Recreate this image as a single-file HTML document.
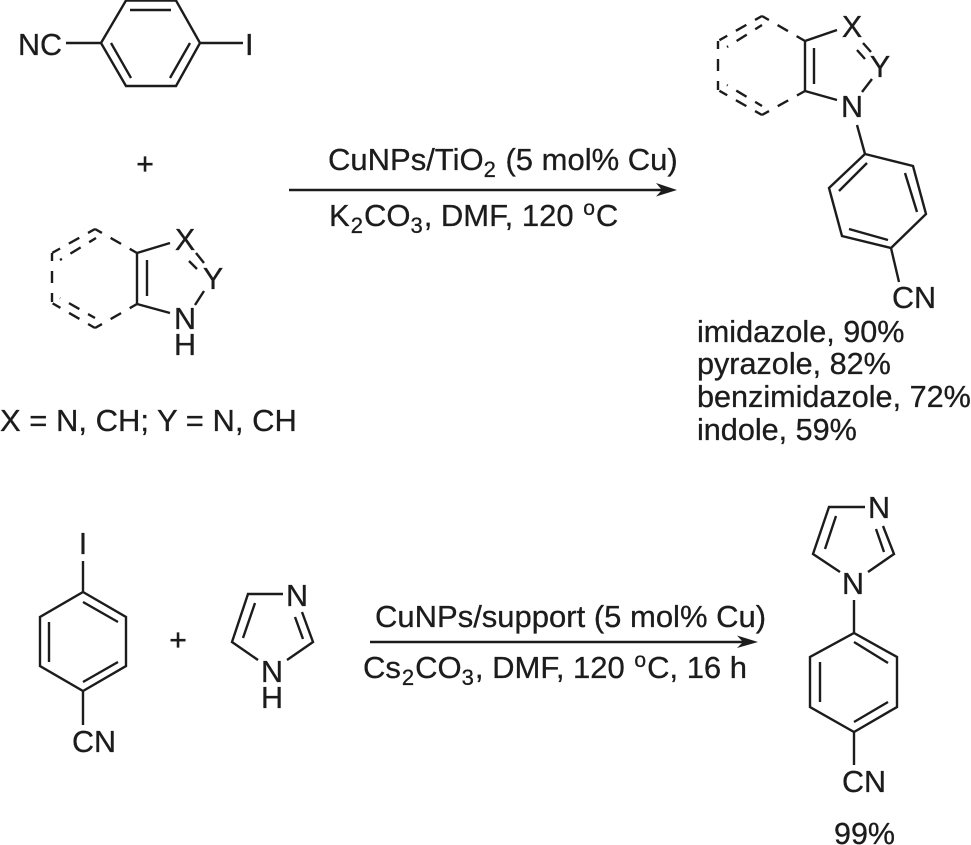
<!DOCTYPE html>
<html><head><meta charset="utf-8"><style>
html,body{margin:0;padding:0;background:#fff}
svg{display:block}
text{font-family:"Liberation Sans",sans-serif;font-size:30.5px;fill:#1c1c1c;stroke:#1c1c1c;stroke-width:.3}
.m{text-anchor:middle}
.r{font-size:31px}
.l{font-size:30.6px}
.s{font-size:22px}
.o{font-size:21px}
.b{fill:none;stroke:#1c1c1c;stroke-width:2.4;stroke-linejoin:miter;stroke-linecap:butt}
.d{stroke-dasharray:8 10 12 10 9}
</style></head><body>
<svg width="971" height="845" viewBox="0 0 971 845" xmlns="http://www.w3.org/2000/svg">
<g class="b">
<!-- 4-iodobenzonitrile top -->
<path d="M101 43L126 0.5H176L200 43L176 86H126ZM130 10H171M111 43L131 78M190 43L170 78M66 43H101M200 43H243"/>
<!-- left azole -->
<path class="d" d="M95 229L137 253M95 328L137 304M95 229L52 253M95 328L52 303M52 253V303M96 238L60 260M95 318L60 298"/>
<path d="M170 243L137 253V304L170 313M147 260V296M196 253L204 263M189 261L197 269M204 291L195 305"/>
<!-- product top -->
<path class="d" d="M762 16L805 41M762 115L805 91M762 16L718 41M762 115L718 90M718 41V90M762 25L727 47M762 106L727 85"/>
<path d="M837 30L805 41V91L837 100M814 48V84M863 43L871 52M857 50L865 59M872 79L862 92M857 125L865 154"/>
<path d="M865 154L913 166L926 214L891 248L842 236L829 188ZM867 163L839 191M905 173L917 212M888 240L849 229M891 248L899 282"/>
<!-- bottom left ring -->
<path d="M83 592L126 617V666L83 691L40 666V617ZM83 602L118 622M49 622V662M83 682L118 662M83 561V592M83 691V725"/>
<!-- imidazole -->
<path d="M283 594H248L232 642L258 660M255 603L243 638M302 612L313 642L287 660M295 617L303 639"/>
<!-- bottom product -->
<path d="M865 507H829L813 554L840 572M836 516L825 549M883 526L894 554L868 572M876 529L884 552"/>
<path d="M854 633L897 657V707L854 732L810 707V657ZM854 642L888 663M820 662V702M854 722L888 702M854 600V633M854 732V765"/>
<!-- arrows -->
<path d="M289 190H664M370 642H745"/>
</g>
<path d="M677 190L656 183L662 190L656 196.500Z" fill="#1c1c1c"/>
<path d="M758 642L737 635.500L743 642L737 648Z" fill="#1c1c1c"/>

<text x="18" y="55">NC</text>
<text x="245" y="55">I</text>
<text class="m" x="145" y="174">+</text>
<text class="m" x="185" y="250">X</text>
<text class="m" x="213" y="289">Y</text>
<text class="m" x="185" y="329">N</text>
<text class="m" x="185" y="355">H</text>
<text class="r" x="0" y="431">X = N, CH; Y = N, CH</text>

<text class="m" x="852" y="37">X</text>
<text class="m" x="880" y="77">Y</text>
<text class="m" x="852" y="117">N</text>
<text x="892" y="308">CN</text>

<text class="r" x="328" y="170">CuNPs/TiO<tspan class="s" dy="7">2</tspan><tspan dx="1" dy="-7"> (5 mol% Cu)</tspan></text>
<text class="r" x="329" y="226">K<tspan class="s" dx="1" dy="7">2</tspan><tspan dx="1" dy="-7">CO</tspan><tspan class="s" dy="7">3</tspan><tspan dx="1" dy="-7">, DMF, 120 </tspan><tspan class="o" dx="1" dy="-11">o</tspan><tspan dx="1" dy="11">C</tspan></text>

<text class="l" x="697" y="342">imidazole, 90%</text>
<text class="l" x="697" y="374">pyrazole, 82%</text>
<text class="l" x="697" y="407">benzimidazole, 72%</text>
<text class="l" x="697" y="440">indole, 59%</text>

<text class="m" x="83" y="554">I</text>
<text x="72" y="752">CN</text>
<text class="m" x="178" y="650">+</text>
<text class="m" x="297" y="606">N</text>
<text class="m" x="272" y="682">N</text>
<text class="m" x="272" y="708">H</text>

<text class="r" x="375" y="627">CuNPs/support (5 mol% Cu)</text>
<text class="r" x="363" y="678">Cs<tspan class="s" dx="1" dy="7">2</tspan><tspan dx="1" dy="-7">CO</tspan><tspan class="s" dy="7">3</tspan><tspan dx="1" dy="-7">, DMF, 120 </tspan><tspan class="o" dx="1" dy="-11">o</tspan><tspan dx="1" dy="11">C, 16 h</tspan></text>

<text class="m" x="879" y="518">N</text>
<text class="m" x="853" y="594">N</text>
<text x="842" y="792">CN</text>
<text x="834" y="844">99%</text>
</svg>
</body></html>
